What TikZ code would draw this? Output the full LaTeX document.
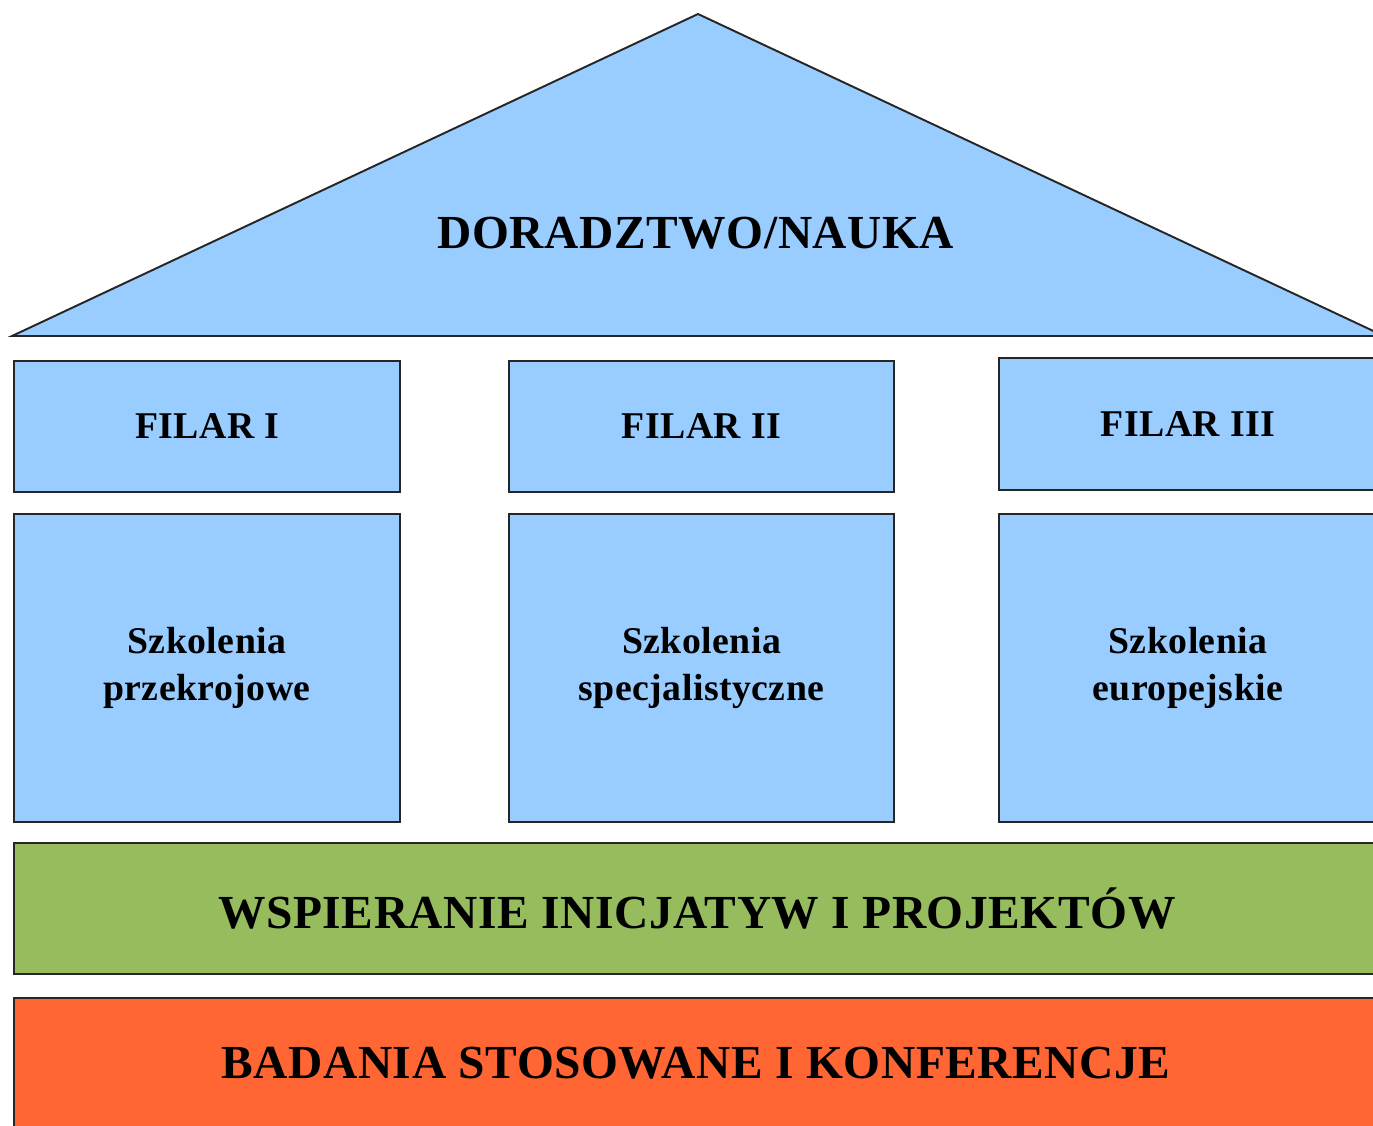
\documentclass[tikz,border=0pt]{standalone}
\usepackage{fontspec}
\setmainfont{Liberation Serif}
\definecolor{niebieski}{HTML}{99CCFF}
\definecolor{zielony}{HTML}{96BC5E}
\definecolor{pomarancz}{HTML}{FF6633}
\tikzset{
	pole/.style={draw=black!85, line width=1.1pt, fill=niebieski},
	duzy/.style={font=\fontsize{27}{32}\selectfont\bfseries\addfontfeature{LetterSpace=1.2}},
	maly/.style={font=\fontsize{21.5}{26.5}\selectfont\bfseries\addfontfeature{LetterSpace=1.2}, align=center}
}
\begin{document}
\begin{tikzpicture}[x=0.02cm, y=-0.02cm]
	\clip (0,0) rectangle (1373,1126);
	\fill[white] (0,0) rectangle (1373,1126);

	\draw[pole] (12,336) -- (698,14) -- (1384,336) -- cycle;
	\node[duzy] (dach) at (696,233) {DORADZTWO/NAUKA};

	\draw[pole] (14,361) rectangle (400,492) node[midway, maly] (f1) {FILAR I};
	\draw[pole] (509,361) rectangle (894,492) node[midway, maly] (f2) {FILAR II};
	\draw[pole] (999,358) rectangle (1400,490) node[maly] (f3) at (1188,424) {FILAR III};

	\draw[pole] (14,514) rectangle (400,822) node[midway, maly] (s1) {Szkolenia\\przekrojowe};
	\draw[pole] (509,514) rectangle (894,822) node[midway, maly] (s2) {Szkolenia\\specjalistyczne};
	\draw[pole] (999,514) rectangle (1400,822) node[maly] (s3) at (1188,668) {Szkolenia\\europejskie};

	\draw[pole, fill=zielony] (14,843) rectangle (1400,974);
	\node[duzy] (wsp) at (697,908) {WSPIERANIE INICJATYW I PROJEKTÓW};
	\draw[pole, fill=pomarancz] (14,998) rectangle (1400,1160);
	\node[duzy] (bad) at (696,1063) {BADANIA STOSOWANE I KONFERENCJE};
\end{tikzpicture}
\end{document}
